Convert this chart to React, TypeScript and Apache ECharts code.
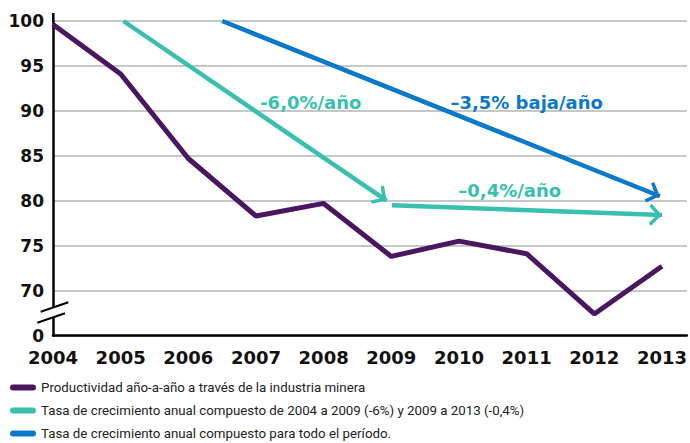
import React, { useEffect, useRef } from "react";
import * as echarts from "echarts";

const years = ["2004", "2005", "2006", "2007", "2008", "2009", "2010", "2011", "2012", "2013"];
const productivity = [99.6, 94.1, 84.7, 78.3, 79.7, 73.8, 75.5, 74.1, 67.4, 72.7];
// teal CAGR arrows: [x index, value] start / end
const tealArrow1 = [[1.04, 100], [4.93, 80.0]];
const tealArrow2 = [[5.01, 79.5], [9.0, 78.4]];
// blue CAGR arrow over whole period
const blueArrow = [[2.5, 100], [8.97, 80.5]];
// rate annotations: [x index, value, text]
const tealRateLabels: [number, number, string][] = [
  [3.81, 90.9, "-6,0%/año"],
  [6.75, 81.1, "–0,4%/año"],
];
const blueRateLabels: [number, number, string][] = [[7.0, 90.9, "–3,5% baja/año"]];
const yTicks = [65, 70, 75, 80, 85, 90, 95, 100];

const seriesNames = [
  "Productividad año-a-año a través de la industria minera",
  "Tasa de crecimiento anual compuesto de 2004 a 2009 (-6%) y 2009 a 2013 (-0,4%)",
  "Tasa de crecimiento anual compuesto para todo el período.",
];

const PURPLE = "#4a165f";
const TEAL = "#38bfb0";
const BLUE = "#0b79c9";

const chevron =
  "path://M11,0 L11.02,0 L11,0.02 Z M11,13 L22,23.6 L19.4,26 L11,17.9 L2.6,26 L0,23.6 Z";

const arrowLine = (seg: number[][]) => [
  { coord: seg[0], symbol: "none" },
  { coord: seg[1] },
];

export default function App() {
  const ref = useRef<HTMLDivElement>(null);
  useEffect(() => {
    if (!ref.current) return;
    const chart = echarts.init(ref.current, undefined, { renderer: "svg" });
    const font = "'DejaVu Sans', sans-serif";
    const markLineCommon = (color: string) => ({
      silent: true,
      symbol: ["none", chevron],
      symbolSize: [22, 26],
      label: { show: false },
      lineStyle: { color, width: 4.5, type: "solid" as const, opacity: 1 },
      emphasis: { disabled: true },
    });
    const markPointFrom = (labels: [number, number, string][], color: string) => ({
      silent: true,
      symbol: "circle",
      symbolSize: 0,
      label: {
        show: true,
        position: "inside" as const,
        formatter: "{b}",
        color,
        fontFamily: font,
        fontWeight: "bold" as const,
        fontSize: 18,
      },
      data: labels.map((l) => ({ name: l[2], coord: [l[0], l[1]] })),
    });
    chart.setOption({
      animation: false,
      grid: { left: 53, right: 0, top: 21, bottom: 107.5 },
      xAxis: {
        type: "value",
        min: 0,
        max: 637 / 68,
        interval: 1,
        axisLine: { onZero: false, lineStyle: { color: "#000", width: 2.5 } },
        axisTick: { show: false },
        splitLine: { show: false },
        axisLabel: {
          showMaxLabel: false,
          margin: 13,
          color: "#111",
          fontFamily: font,
          fontWeight: "bold",
          fontSize: 18,
          formatter: (v: number) => (Number.isInteger(v) && years[v] ? years[v] : ""),
        },
      },
      yAxis: {
        type: "value",
        min: yTicks[0],
        max: yTicks[yTicks.length - 1],
        interval: 5,
        axisLine: { show: true, onZero: false, lineStyle: { color: "#000", width: 2.5 } },
        axisTick: { show: false },
        splitLine: { lineStyle: { color: "#b4b4b4", width: 1.5 } },
        axisLabel: {
          margin: 9,
          color: "#111",
          fontFamily: font,
          fontWeight: "bold",
          fontSize: 17,
          formatter: (v: number) => (v === yTicks[0] ? "0" : String(v)),
        },
      },
      legend: {
        orient: "vertical",
        left: 10,
        top: 379.5,
        padding: 0,
        itemWidth: 26,
        itemHeight: 6,
        itemGap: 7,
        icon: "path://M3,0 L23,0 A3,3 0 0 1 23,6 L3,6 A3,3 0 0 1 3,0 Z",
        selectedMode: false,
        textStyle: {
          fontFamily: "Roboto, sans-serif",
          fontSize: 13.3,
          color: "#222",
          lineHeight: 16,
        },
        data: seriesNames,
      },
      series: [
        {
          name: seriesNames[0],
          type: "line",
          color: PURPLE,
          symbol: "none",
          lineStyle: { color: PURPLE, width: 5 },
          data: productivity.map((v, i) => [i, v]),
          z: 3,
        },
        {
          name: seriesNames[1],
          type: "line",
          color: TEAL,
          symbol: "none",
          data: [],
          markLine: {
            ...markLineCommon(TEAL),
            data: [arrowLine(tealArrow1), arrowLine(tealArrow2)],
          },
          markPoint: markPointFrom(tealRateLabels, TEAL),
        },
        {
          name: seriesNames[2],
          type: "line",
          color: BLUE,
          symbol: "none",
          data: [],
          markLine: {
            ...markLineCommon(BLUE),
            data: [arrowLine(blueArrow)],
          },
          markPoint: markPointFrom(blueRateLabels, BLUE),
        },
      ],
      graphic: [
        { type: "line", shape: { x1: 53.3, y1: 13, x2: 53.3, y2: 22 }, style: { stroke: "#000", lineWidth: 2.5 } },
        { type: "rect", shape: { x: 50, y: 308, width: 7, height: 9 }, style: { fill: "#fff" }, z: 100 },
        { type: "line", shape: { x1: 40.7, y1: 311.7, x2: 68.3, y2: 302.3 }, style: { stroke: "#000", lineWidth: 2 }, z: 101 },
        { type: "line", shape: { x1: 37.3, y1: 322.7, x2: 65, y2: 313.3 }, style: { stroke: "#000", lineWidth: 2 }, z: 101 },
      ],
    });
    return () => chart.dispose();
  }, []);
  return (
    <div
      ref={ref}
      style={{ position: "fixed", left: 0, top: 0, width: 690, height: 443, background: "#fff" }}
    />
  );
}
